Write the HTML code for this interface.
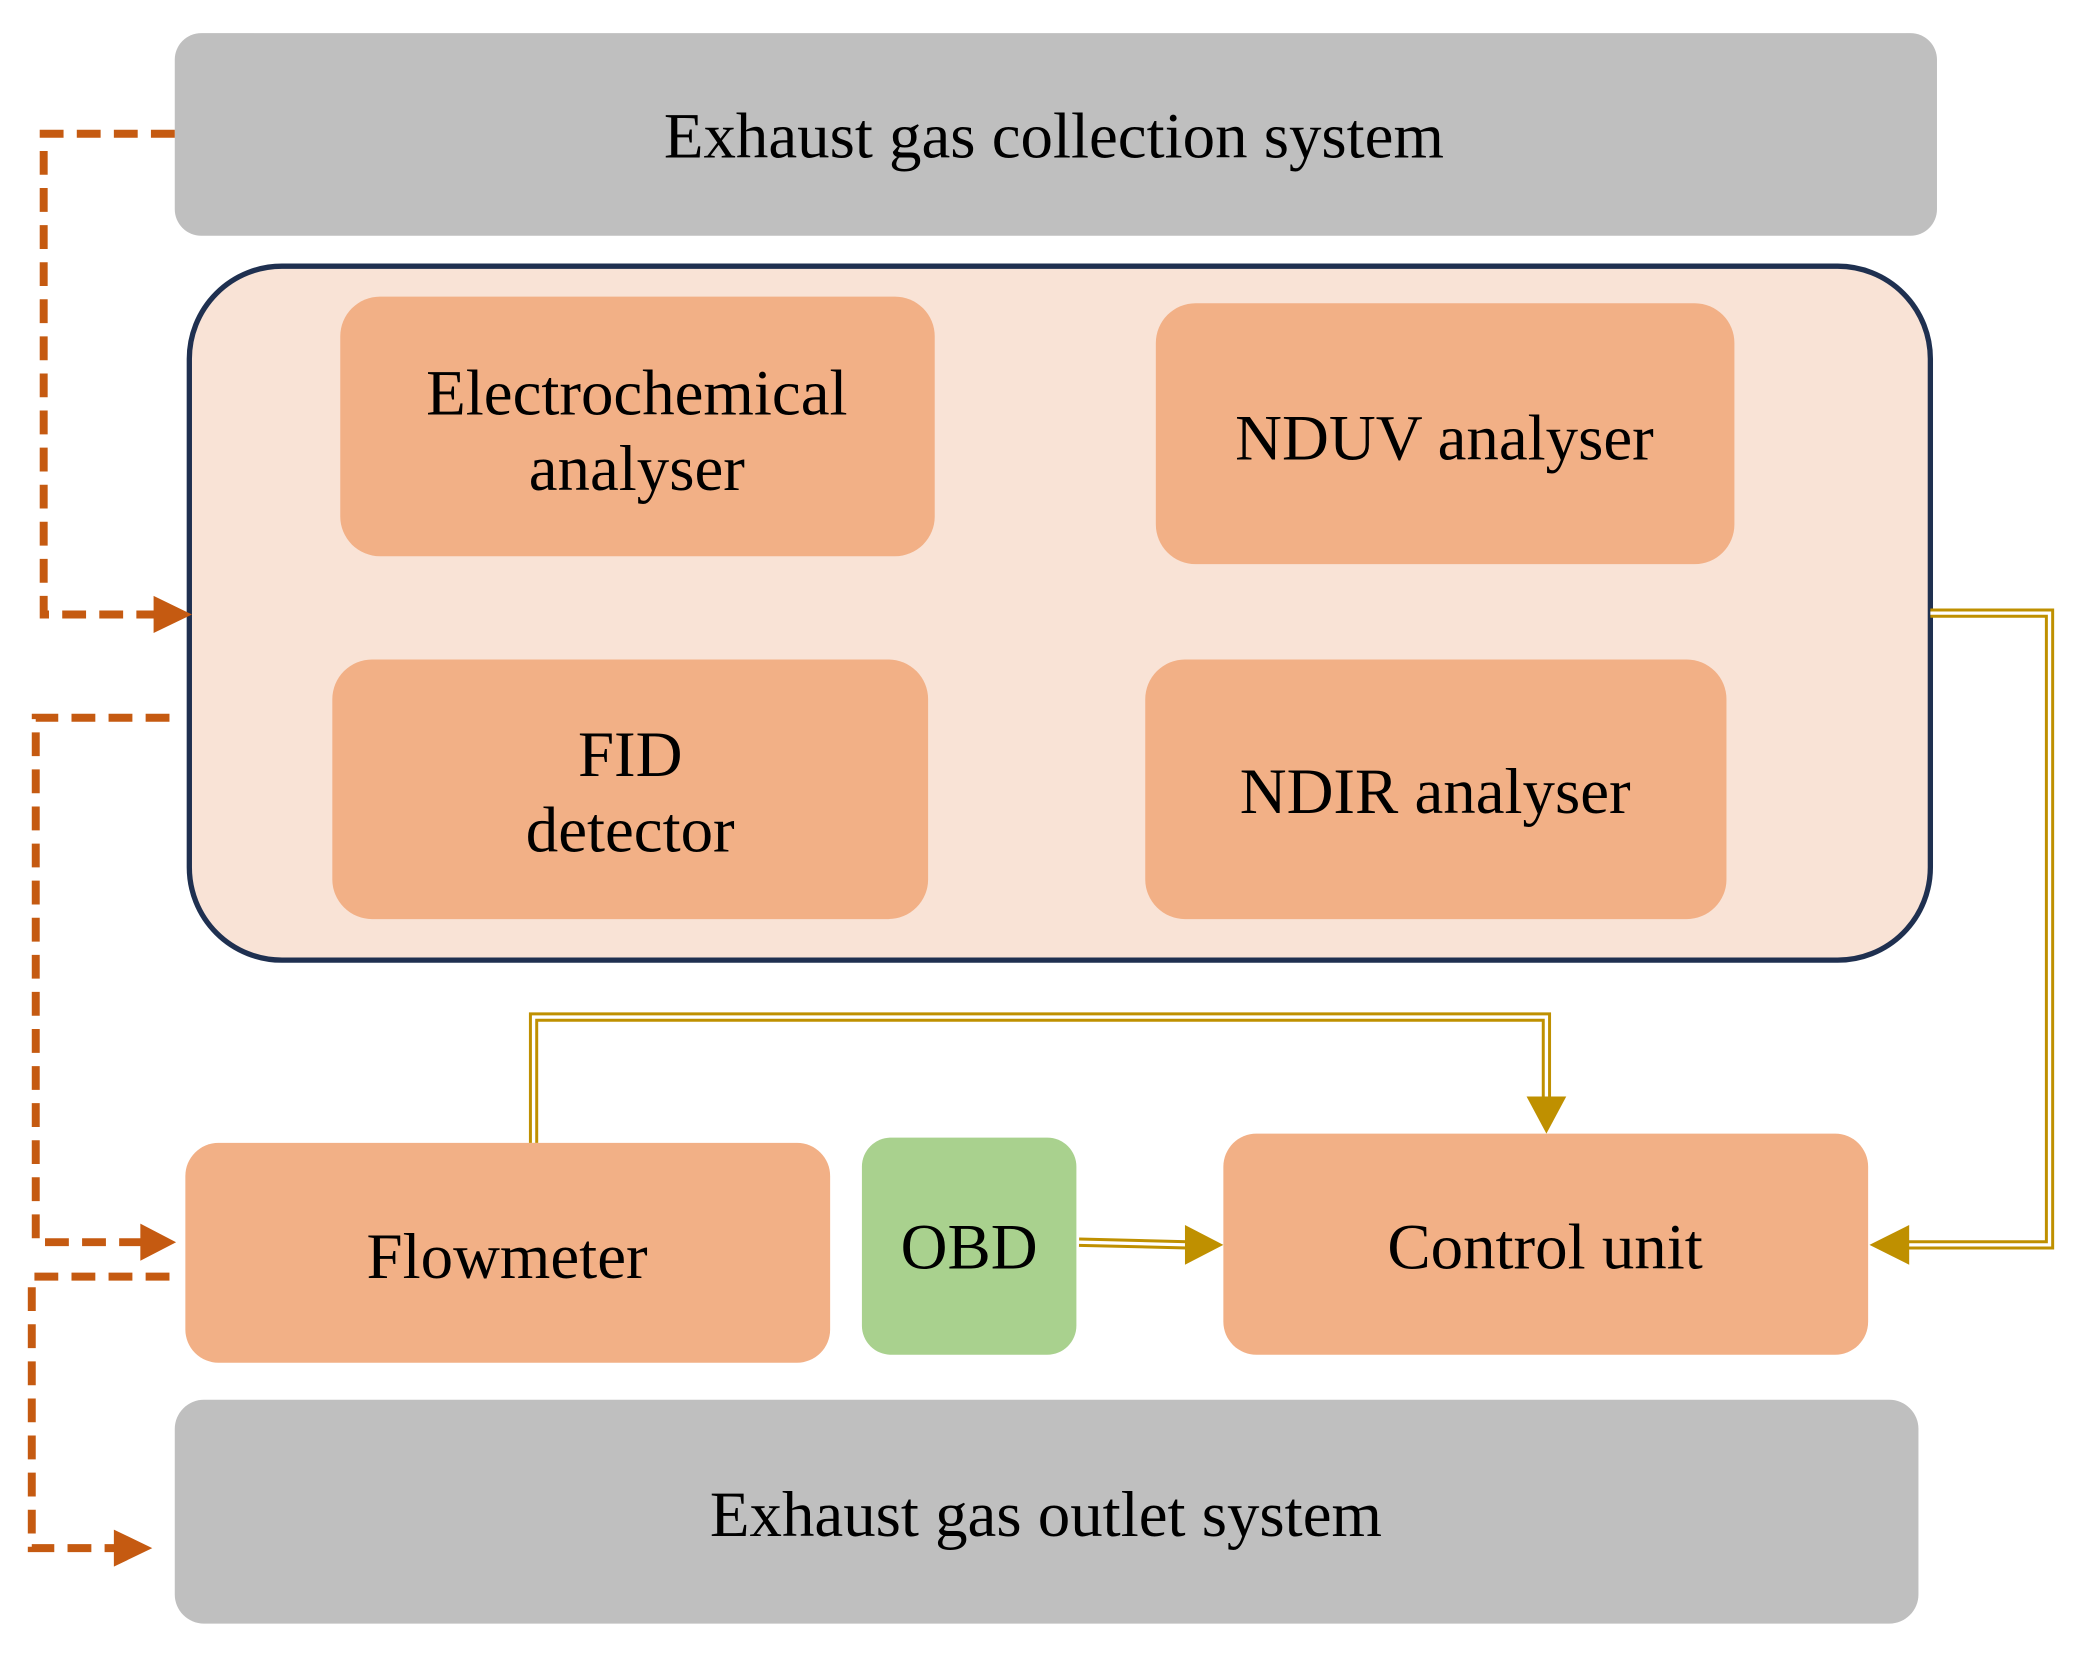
<!DOCTYPE html>
<html><head><style>html,body{margin:0;padding:0;background:#fff;}svg{display:block}</style></head>
<body>
<svg width="2076" height="1662" viewBox="0 0 1568 1255" preserveAspectRatio="none" xmlns="http://www.w3.org/2000/svg" font-family="Liberation Serif, serif" font-size="49" fill="#000">
<rect x="132" y="25" width="1331" height="153" rx="20" fill="#bfbfbf"/>
<text x="796" y="119" text-anchor="middle">Exhaust gas collection system</text>
<rect x="143" y="201" width="1315" height="524" rx="70" fill="#f9e3d6" stroke="#1f3050" stroke-width="4"/>
<g fill="#f2b086">
<rect x="257" y="224" width="449" height="196" rx="30"/>
<rect x="873" y="229" width="437" height="197" rx="30"/>
<rect x="251" y="498" width="450" height="196" rx="30"/>
<rect x="865" y="498" width="439" height="196" rx="30"/>
<rect x="140" y="863" width="487" height="166" rx="25"/>
<rect x="924" y="856" width="487" height="167" rx="25"/>
</g>
<rect x="651" y="859" width="162" height="164" rx="22" fill="#a9d18e"/>
<rect x="132" y="1057" width="1317" height="169" rx="22" fill="#bfbfbf"/>
<g text-anchor="middle">
<text x="481" y="313">Electrochemical</text>
<text x="481" y="370">analyser</text>
<text x="1091" y="347">NDUV analyser</text>
<text x="476" y="586">FID</text>
<text x="476" y="643">detector</text>
<text x="1084" y="614">NDIR analyser</text>
<text x="383" y="965">Flowmeter</text>
<text x="732" y="958">OBD</text>
<text x="1167" y="958">Control unit</text>
<text x="790" y="1160">Exhaust gas outlet system</text>
</g>
<g fill="none" stroke="#c55a11" stroke-width="6" stroke-dasharray="18,10">
<path d="M132,101 H33 V464 H118"/>
<path d="M128,542 H27 V938 H108"/>
<path d="M128,964 H24 V1169 H88"/>
</g>
<g fill="#c55a11">
<polygon points="145,464 116,450 116,478"/>
<polygon points="133,938 106,924 106,952"/>
<polygon points="115,1169 86,1155 86,1183"/>
</g>
<g fill="none" stroke="#bf9000" stroke-width="7">
<path d="M1458,463 H1548 V940 H1440"/>
<path d="M403,863 V768 H1168 V830"/>
<path d="M815,938 L897,940"/>
</g>
<g fill="none" stroke="#fff" stroke-width="2.5">
<path d="M1458,463 H1548 V940 H1440"/>
<path d="M403,863 V768 H1168 V830"/>
<path d="M815,938 L897,940"/>
</g>
<g fill="#bf9000">
<polygon points="1412,940 1442,925 1442,955"/>
<polygon points="1168,856 1153,828 1183,828"/>
<polygon points="924,940 895,925 895,955"/>
</g>
</svg>
</body></html>
